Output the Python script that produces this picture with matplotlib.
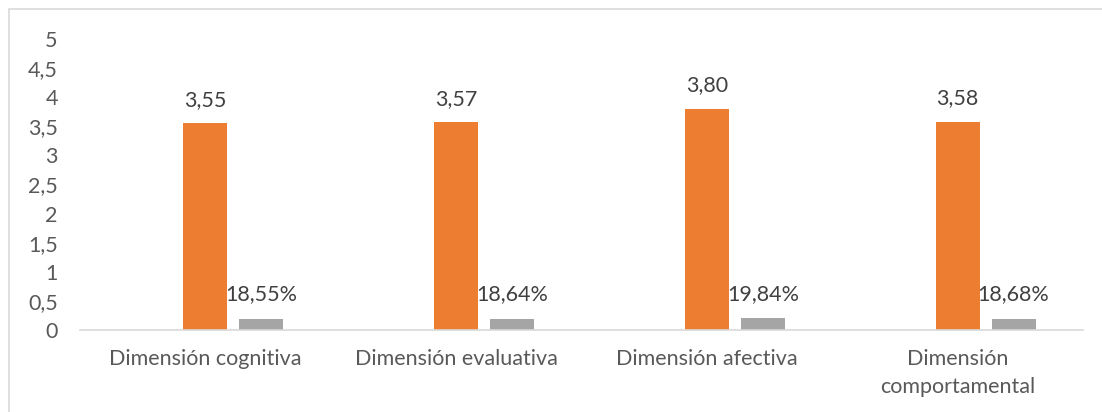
import numpy as np
import matplotlib.pyplot as plt
from matplotlib.patches import Rectangle

categories = ["Dimensión cognitiva", "Dimensión evaluativa", "Dimensión afectiva",
              "Dimensión\ncomportamental"]
medias = [3.55, 3.57, 3.80, 3.58]
porcentajes = [0.1855, 0.1864, 0.1984, 0.1868]
etiquetas_media = ["3,55", "3,57", "3,80", "3,58"]
etiquetas_pct = ["18,55%", "18,64%", "19,84%", "18,68%"]
yticks = [0, 0.5, 1, 1.5, 2, 2.5, 3, 3.5, 4, 4.5, 5]
ytick_labels = ["0", "0,5", "1", "1,5", "2", "2,5", "3", "3,5", "4", "4,5", "5"]

plt.rcParams['font.family'] = ['Lato', 'DejaVu Sans']
text_color = "#595959"
fs = 15.5

fig = plt.figure(figsize=(11.02, 4.12), dpi=100)
ax = fig.add_axes([80 / 1102, 1 - 330 / 412, (1083 - 80) / 1102, (330 - 39) / 412])

# outer chart frame (Excel style), partly cut off at right/bottom
fig.patches.append(Rectangle((9 / 1102, -0.1), 1.2, 1 - 9 / 412 + 0.1,
                             transform=fig.transFigure, fill=False,
                             edgecolor="#d9d9d9", linewidth=1.2))

x = np.arange(len(categories))
bw = 44 / 250.75
step = 56 / 250.75

bars_m = ax.bar(x, medias, width=bw, color="#ed7d31")
bars_p = ax.bar(x + step, porcentajes, width=bw, color="#a5a5a5")

for b, lab in zip(bars_m, etiquetas_media):
    ax.annotate(lab, (b.get_x() + b.get_width() / 2, b.get_height()),
                xytext=(0, 12.5), textcoords="offset points", ha="center", va="baseline",
                fontsize=fs, color="#404040")
for b, lab in zip(bars_p, etiquetas_pct):
    ax.annotate(lab, (b.get_x() + b.get_width() / 2, b.get_height()),
                xytext=(0, 13.5), textcoords="offset points", ha="center", va="baseline",
                fontsize=fs, color="#404040")

ax.set_xlim(-0.5, len(categories) - 0.5)
ax.set_ylim(0, 5)
ax.set_yticks(yticks)
ax.set_yticklabels(ytick_labels)
ax.set_xticks(x)
ax.set_xticklabels(categories, linespacing=1.45)

for s in ["top", "right", "left"]:
    ax.spines[s].set_visible(False)
ax.spines["bottom"].set_color("#d9d9d9")
ax.spines["bottom"].set_linewidth(1.2)
ax.tick_params(axis="both", length=0, labelsize=fs, colors=text_color)
ax.tick_params(axis="y", pad=16)
ax.tick_params(axis="x", pad=14)

fig.savefig("out.png", dpi=100)
